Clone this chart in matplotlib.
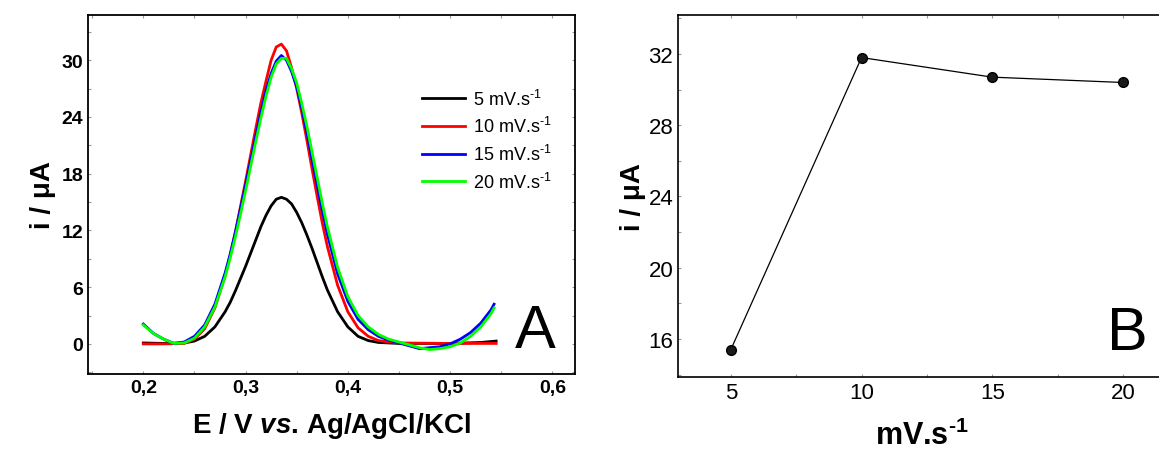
import matplotlib
matplotlib.use("Agg")
import matplotlib.pyplot as plt
from matplotlib.ticker import MultipleLocator, FuncFormatter

plt.rcParams['font.family'] = ['Liberation Sans', 'DejaVu Sans']
plt.rcParams['mathtext.fontset'] = 'custom'
plt.rcParams['mathtext.rm'] = 'Liberation Sans'
plt.rcParams['mathtext.it'] = 'Liberation Sans:italic'
plt.rcParams['mathtext.bf'] = 'Liberation Sans:bold'
plt.rcParams['mathtext.bfit'] = 'Liberation Sans:bold:italic'

# Panel A: differential pulse voltammograms
e_black = [0.20, 0.22, 0.24, 0.25, 0.26, 0.27, 0.28, 0.285, 0.29, 0.295, 0.30, 0.305,
           0.31, 0.315, 0.32, 0.325, 0.33, 0.335, 0.34, 0.345, 0.35, 0.355, 0.36,
           0.365, 0.37, 0.375, 0.38, 0.39, 0.40, 0.41, 0.42, 0.43, 0.45, 0.50, 0.53, 0.545]
i_black = [0.1, 0.05, 0.1, 0.3, 0.8, 1.8, 3.4, 4.4, 5.6, 6.9, 8.2, 9.6,
           11.0, 12.4, 13.6, 14.6, 15.3, 15.5, 15.3, 14.8, 13.9, 12.8, 11.5,
           10.1, 8.6, 7.1, 5.7, 3.4, 1.8, 0.8, 0.35, 0.15, 0.05, 0.05, 0.15, 0.3]

e_red = [0.20, 0.22, 0.24, 0.25, 0.26, 0.27, 0.28, 0.285, 0.29, 0.295, 0.30, 0.305,
         0.31, 0.315, 0.32, 0.325, 0.33, 0.335, 0.34, 0.345, 0.35, 0.355, 0.36,
         0.365, 0.37, 0.375, 0.38, 0.39, 0.40, 0.41, 0.42, 0.43, 0.45, 0.50, 0.545]
i_red = [0.0, 0.0, 0.05, 0.5, 1.6, 3.8, 7.2, 9.4, 11.8, 14.5, 17.2, 20.0,
         22.8, 25.5, 27.8, 30.0, 31.4, 31.7, 31.0, 29.2, 27.0, 24.4, 21.5,
         18.5, 15.6, 12.8, 10.3, 6.2, 3.4, 1.7, 0.8, 0.35, 0.1, 0.05, 0.05]

e_blue = [0.20, 0.21, 0.22, 0.23, 0.24, 0.25, 0.26, 0.27, 0.28, 0.285, 0.29, 0.295,
          0.30, 0.305, 0.31, 0.315, 0.32, 0.325, 0.33, 0.335, 0.34, 0.345, 0.35,
          0.355, 0.36, 0.365, 0.37, 0.375, 0.38, 0.39, 0.40, 0.41, 0.42, 0.43, 0.44,
          0.45, 0.46, 0.47, 0.48, 0.49, 0.50, 0.51, 0.52, 0.53, 0.54, 0.543]
i_blue = [2.1, 1.1, 0.5, 0.05, 0.2, 0.8, 2.0, 4.2, 7.5, 9.5, 11.8, 14.3,
          16.8, 19.4, 22.0, 24.5, 26.8, 28.6, 29.9, 30.5, 30.0, 28.8, 27.2,
          24.9, 22.3, 19.5, 16.8, 14.1, 11.6, 7.4, 4.5, 2.6, 1.5, 0.8, 0.4,
          0.1, -0.2, -0.5, -0.4, -0.3, 0.0, 0.5, 1.2, 2.2, 3.6, 4.2]

e_green = [0.20, 0.21, 0.22, 0.23, 0.24, 0.25, 0.26, 0.27, 0.28, 0.285, 0.29, 0.295,
           0.30, 0.305, 0.31, 0.315, 0.32, 0.325, 0.33, 0.335, 0.34, 0.345, 0.35,
           0.355, 0.36, 0.365, 0.37, 0.375, 0.38, 0.39, 0.40, 0.41, 0.42, 0.43, 0.44,
           0.45, 0.46, 0.47, 0.48, 0.49, 0.50, 0.51, 0.52, 0.53, 0.54, 0.543]
i_green = [2.0, 1.1, 0.5, 0.05, 0.1, 0.6, 1.8, 3.9, 7.1, 9.1, 11.3, 13.7,
           16.2, 18.8, 21.4, 23.9, 26.2, 28.2, 29.6, 30.2, 30.2, 29.1, 27.6,
           25.4, 23.0, 20.3, 17.6, 14.9, 12.4, 8.1, 5.0, 3.0, 1.8, 1.0, 0.5,
           0.2, -0.1, -0.4, -0.6, -0.5, -0.3, 0.1, 0.8, 1.8, 3.2, 3.8]

labels_a = [r'5 mV.s$^{\text{-1}}$', r'10 mV.s$^{\text{-1}}$',
            r'15 mV.s$^{\text{-1}}$', r'20 mV.s$^{\text{-1}}$']
colors_a = ['black', '#ff0000', '#0000ff', '#00ff00']

# Panel B: peak current vs scan rate
scan_rate = [5, 10, 15, 20]
peak_current = [15.4, 31.8, 30.7, 30.4]

fig = plt.figure(figsize=(11.59, 4.52), dpi=100)
ax1 = fig.add_axes([0.076, 0.170, 0.420, 0.795])
ax2 = fig.add_axes([0.585, 0.164, 0.420, 0.801])

series = [(e_black, i_black), (e_red, i_red), (e_blue, i_blue), (e_green, i_green)]
for (x, y), c, lab in zip(series, colors_a, labels_a):
    ax1.plot(x, y, color=c, lw=2.0, label=lab, solid_joinstyle='round')

ax1.set_xlim(0.146, 0.622)
ax1.set_ylim(-3.2, 34.8)
ax1.xaxis.set_major_locator(MultipleLocator(0.1))
ax1.xaxis.set_minor_locator(MultipleLocator(0.05))
ax1.yaxis.set_major_locator(MultipleLocator(6))
ax1.yaxis.set_minor_locator(MultipleLocator(3))
ax1.xaxis.set_major_formatter(FuncFormatter(lambda v, p: f'{v:.1f}'.replace('.', ',')))
ax1.tick_params(which='both', direction='in', top=True, right=True, labelsize=14,
                color='#999999', length=2, width=0.8)
for lbl in ax1.get_xticklabels() + ax1.get_yticklabels():
    lbl.set_fontweight('bold')
for sp in ax1.spines.values():
    sp.set_linewidth(1.3)
ax1.set_xlabel(r'E / V $\mathbfit{vs}$. Ag/AgCl/KCl', fontsize=20, fontweight='bold',
               labelpad=10)
ax1.set_ylabel('i / μA', fontsize=20, fontweight='bold', labelpad=4)
ax1.legend(loc='upper right', bbox_to_anchor=(0.985, 0.84), frameon=False, fontsize=13,
           handlelength=2.4, handletextpad=0.4, labelspacing=0.42)
ax1.text(0.96, 0.04, 'A', transform=ax1.transAxes, fontsize=44, ha='right', va='bottom')

ax2.plot(scan_rate, peak_current, color='black', lw=0.9, marker='o', markersize=7,
         markerfacecolor='#1a1a1a', markeredgecolor='black')
ax2.set_xlim(2.98, 21.6)
ax2.set_ylim(13.87, 34.2)
ax2.xaxis.set_major_locator(MultipleLocator(5))
ax2.xaxis.set_minor_locator(MultipleLocator(2.5))
ax2.yaxis.set_major_locator(MultipleLocator(4))
ax2.yaxis.set_minor_locator(MultipleLocator(2))
ax2.tick_params(which='both', direction='in', top=True, right=False, labelsize=16,
                color='#999999', length=2, width=0.8)
for sp in ax2.spines.values():
    sp.set_linewidth(1.2)
ax2.set_xlabel(r'mV.s$^{\mathbf{‐1}}$', fontsize=22, fontweight='bold', labelpad=12)
ax2.set_ylabel('i / μA', fontsize=20, fontweight='bold', labelpad=2)
ax2.text(0.965, 0.04, 'B', transform=ax2.transAxes, fontsize=44, ha='right', va='bottom')

fig.savefig('out.png', dpi=100)
